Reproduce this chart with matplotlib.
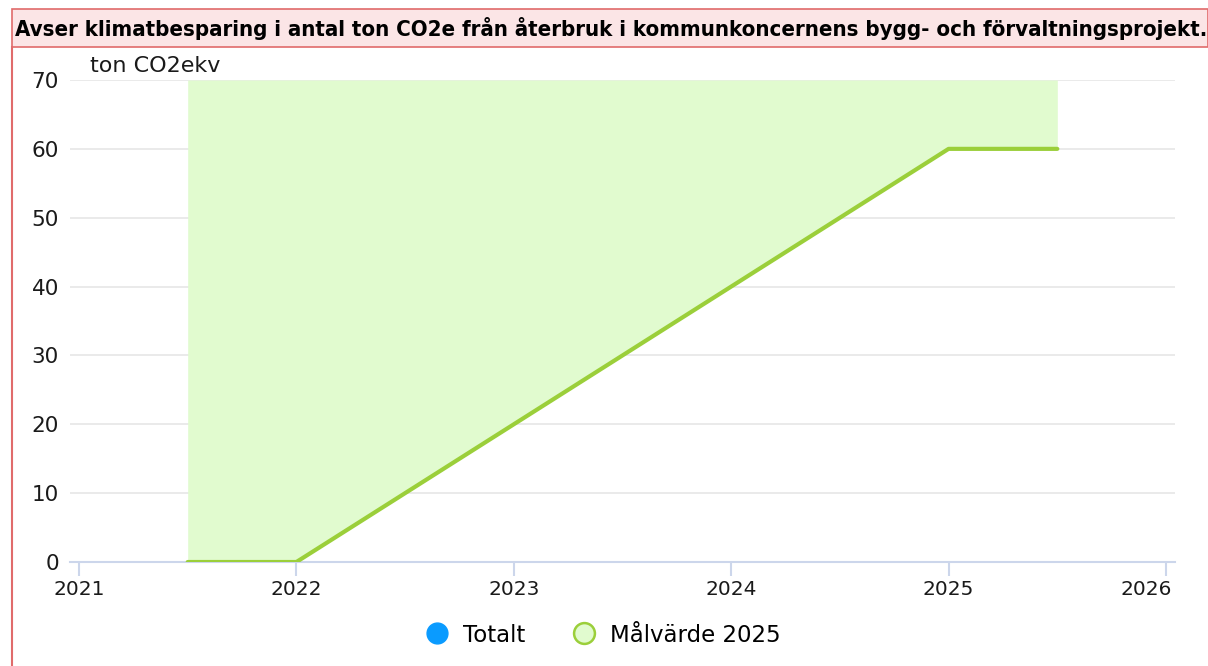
import matplotlib
matplotlib.use("Agg")
import matplotlib.pyplot as plt
import matplotlib.transforms as mtransforms
from matplotlib.patches import Rectangle
from matplotlib.lines import Line2D

# Data
target_years = [2021.5, 2022, 2025, 2025.5]
target_values = [0, 0, 60, 60]
target_upper = [70, 70, 70, 70]
x_ticks = [2021, 2022, 2023, 2024, 2025, 2026]
y_ticks = [0, 10, 20, 30, 40, 50, 60, 70]
title = "Avser klimatbesparing i antal ton CO2e från återbruk i kommunkoncernens bygg- och förvaltningsprojekt."
y_unit = "ton CO2ekv"
legend_labels = ["Totalt", "Målvärde 2025"]

W, H = 1208, 666
fig = plt.figure(figsize=(W / 100, H / 100), dpi=100)
fig.patch.set_facecolor("white")

def fx(px):
    return px / W

def fy(py):
    return 1 - py / H

# Title bar
bar = Rectangle((fx(12), fy(47)), fx(1208 - 12), (47 - 9) / H, transform=fig.transFigure,
                facecolor="#fbe5e6", edgecolor="#e06b6b", linewidth=1.2, zorder=0)
fig.patches.append(bar)
fig.add_artist(Line2D([fx(12), fx(12)], [fy(47), 0], transform=fig.transFigure,
                      color="#e06b6b", linewidth=1.5))
fig.text(fx(15), fy(28), title, fontsize=15.9, fontweight="bold", fontstretch="condensed",
         family="DejaVu Sans", va="center", ha="left", color="black")

# Axes: plot area spans px 70..1175 horizontally, 80..562 vertically
left_px, right_px, top_px, bottom_px = 70, 1175, 80, 562
ax = fig.add_axes([fx(left_px), fy(bottom_px), (right_px - left_px) / W, (bottom_px - top_px) / H])
ppy = (1166 - 79) / 5.0
x0 = 2021 - (79 - left_px) / ppy
x1 = 2026 + (right_px - 1166) / ppy
ax.set_xlim(x0, x1)
ax.set_ylim(0, 70)

ax.fill_between(target_years, target_values, target_upper, color="#e1fbcf", linewidth=0, zorder=1)
ax.plot(target_years, target_values, color="#9bcf3a", linewidth=3, solid_capstyle="round", zorder=3)

ax.set_yticks(y_ticks)
ax.set_xticks(x_ticks)
ax.grid(axis="y", color="#e6e6e6", linewidth=1.2, zorder=0)
ax.set_axisbelow(True)
for s in ["top", "right", "left"]:
    ax.spines[s].set_visible(False)
ax.spines["bottom"].set_color("#ccd6eb")
ax.spines["bottom"].set_linewidth(1.5)
ax.tick_params(axis="y", length=0, pad=8, labelsize=15.5, labelcolor="#1a1a1a")
ax.tick_params(axis="x", length=10, width=1.5, color="#ccd6eb", pad=3, labelsize=14.5, labelcolor="#1a1a1a")
ax.set_yticklabels([str(v) for v in y_ticks])
ax.set_xticklabels([str(v) for v in x_ticks])

# Shift last x label inside the plot area (as in reference)
last = ax.get_xticklabels()[-1]
last.set_transform(last.get_transform() + mtransforms.ScaledTranslation(-20 / 100, 0, fig.dpi_scale_trans))

fig.text(fx(90), fy(66), y_unit, fontsize=16, color="#1a1a1a", va="center", ha="left")

# Legend
handles = [
    Line2D([], [], linestyle="none", marker="o", markersize=15, markerfacecolor="#0a9bff",
           markeredgecolor="#0a9bff"),
    Line2D([], [], linestyle="none", marker="o", markersize=15, markerfacecolor="#e1fbcf",
           markeredgecolor="#9bcf3a", markeredgewidth=1.8),
]
fig.legend(handles, legend_labels, loc="center", bbox_to_anchor=(fx(602), fy(635)), ncol=2,
           frameon=False, fontsize=16.5, handletextpad=0.5, columnspacing=2.0, handlelength=1.2)

fig.savefig("out.png", dpi=100)
